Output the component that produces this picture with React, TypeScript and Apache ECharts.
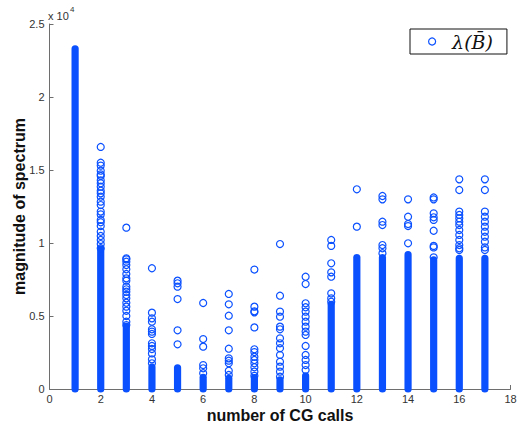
import React, { useEffect, useRef } from "react";
import * as echarts from "echarts";

// number of CG calls (x positions)
const calls = [1, 2, 3, 4, 5, 6, 7, 8, 9, 10, 11, 12, 13, 14, 15, 16, 17];
// solid (overplotted) part of each column: from 0 up to this value
const denseTop = [23300, 9600, 4300, 1500, 1450, 800, 730, 780, 620, 900, 5800, 9000, 9000, 9200, 8840, 8950, 8950];
// individually visible eigenvalues above the solid part, per column
const sparse2 = [16580, 15500, 15300, 14950, 14700, 14590, 14290, 14090, 13860, 13580, 13400, 13170, 12830, 12600, 12150, 11960, 11580, 11420, 11160, 10770, 10480, 10210, 9930, 9640];
const sparse3 = [11050, 8950, 8880, 8720, 8490, 8200, 7880, 7580, 7420, 7010, 6830, 6660, 6440, 6210, 5910, 5640, 5360, 5000, 4610, 4380];
const sparse4 = [8270, 5230, 4840, 4610, 4090, 3930, 3770, 3130, 2950, 2740, 2440, 2030, 1760];
const sparse5 = [7420, 7240, 7010, 6160, 4020, 3060];
const sparse6 = [5890, 3420, 2900, 1640, 1420, 1080];
const sparse7 = [6510, 5800, 5020, 4020, 2760, 2100, 1940, 1760, 1250, 960];
const sparse8 = [8180, 5640, 5320, 5250, 4220, 2720, 2530, 2210, 1990, 1760, 1490, 1190, 900];
const sparse9 = [9930, 6390, 5300, 4950, 4270, 4090, 3470, 3130, 2790, 2330, 1870, 1530, 1190, 840];
const sparse10 = [7690, 7190, 5870, 5600, 5300, 4950, 4610, 4270, 3930, 3700, 2950, 2330, 1990, 1640, 1300];
const sparse11 = [10210, 9800, 8610, 7990, 7690, 6550, 6210, 5980];
const sparse12 = [13680, 11120];
const sparse13 = [13220, 12990, 11460, 11230, 9860, 9640, 9300];
const sparse14 = [12990, 11800, 11300, 11160, 9980];
const sparse15 = [13120, 12990, 12030, 11760, 11580, 10840, 9800, 9700, 9020];
const sparse16 = [14360, 13630, 12150, 11920, 11690, 11460, 11230, 10890, 10550, 10210, 9860, 9640, 9520];
const sparse17 = [14360, 13630, 12150, 11800, 11460, 11120, 10770, 10430, 10090, 9700, 9520];

const sparseByCall: number[][] = [
  [], sparse2, sparse3, sparse4, sparse5, sparse6, sparse7, sparse8, sparse9,
  sparse10, sparse11, sparse12, sparse13, sparse14, sparse15, sparse16, sparse17,
];

const xTicks = [0, 18, 2];
const yTicks = [0, 25000, 5000];
const seriesName = "\u03bb(B\u0304)";

const BLUE = "#0a50ff";
const R = 3.6;

export default function App() {
  const ref = useRef<HTMLDivElement>(null);
  useEffect(() => {
    if (!ref.current) return;
    const chart = echarts.init(ref.current, undefined, { renderer: "svg" });

    const scatterData: number[][] = [];
    calls.forEach((c, i) => {
      sparseByCall[i].forEach((v) => scatterData.push([c, v]));
    });
    const denseData = calls.map((c, i) => [c, 0, denseTop[i]]);

    const axisLine = { show: true, lineStyle: { color: "#6e6e6e", width: 1 } };
    const labelStyle = { color: "#333", fontFamily: "Liberation Sans, Arial, sans-serif", fontSize: 11 };

    chart.setOption({
      animation: false,
      backgroundColor: "#fff",
      grid: { left: 49.5, right: 8.5, top: 24, bottom: 35, containLabel: false, outerBoundsMode: "none" },
      xAxis: {
        type: "value",
        min: xTicks[0],
        max: xTicks[1],
        interval: xTicks[2],
        name: "number of CG calls",
        nameLocation: "middle",
        nameGap: 18,
        nameMoveOverlap: false,
        nameTextStyle: { fontFamily: "Liberation Sans, Arial, sans-serif", fontWeight: "bold", fontSize: 16, color: "#111" },
        axisLine,
        axisTick: { show: true, inside: true, length: 4, lineStyle: { color: "#6e6e6e" } },
        axisLabel: { ...labelStyle, margin: 4 },
        splitLine: { show: false },
      },
      yAxis: {
        type: "value",
        min: yTicks[0],
        max: yTicks[1],
        interval: yTicks[2],
        name: "magnitude of spectrum",
        nameLocation: "middle",
        nameGap: 22,
        nameMoveOverlap: false,
        nameTextStyle: { fontFamily: "Liberation Sans, Arial, sans-serif", fontWeight: "bold", fontSize: 16, color: "#111" },
        axisLine,
        axisTick: { show: true, inside: true, length: 4, lineStyle: { color: "#6e6e6e" } },
        axisLabel: { ...labelStyle, margin: 5, formatter: (v: number) => String(v / 10000) },
        splitLine: { show: false },
      },
      legend: {
        left: 410,
        top: 29,
        padding: [3, 14, 3, 18],
        borderColor: "#111",
        borderWidth: 1,
        backgroundColor: "#fff",
        itemWidth: 30,
        itemHeight: 7,
        data: [
          {
            name: seriesName,
            icon: "circle",
            itemStyle: { color: "transparent", borderColor: BLUE, borderWidth: 1.2 },
          },
        ],
        textStyle: { fontFamily: "DejaVu Serif, Liberation Serif, serif", fontStyle: "italic", fontSize: 19, color: "#111" },
      },
      graphic: [
        { type: "text", x: 48, y: 10, style: { text: "x 10", fontSize: 11, fontFamily: "Liberation Sans, Arial, sans-serif", fill: "#333" } },
        { type: "text", x: 70, y: 5, style: { text: "4", fontSize: 8, fontFamily: "Liberation Sans, Arial, sans-serif", fill: "#333" } },
      ],
      series: [
        {
          type: "custom",
          name: "dense",
          data: denseData,
          renderItem: (params: any, api: any) => {
            const top = api.coord([api.value(0), api.value(2)]);
            const bot = api.coord([api.value(0), api.value(1)]);
            return {
              type: "rect",
              shape: { x: top[0] - R, y: top[1] - R, width: 2 * R, height: bot[1] - top[1] + 2 * R, r: R },
              style: { fill: BLUE },
            };
          },
          silent: true,
          z: 1,
        },
        {
          type: "scatter",
          name: seriesName,
          data: scatterData,
          symbol: "circle",
          symbolSize: 7,
          itemStyle: { color: "transparent", borderColor: BLUE, borderWidth: 1.2, opacity: 1 },
          z: 2,
        },
      ],
    });
    return () => chart.dispose();
  }, []);
  return <div ref={ref} style={{ width: 519, height: 424, position: "absolute", left: 0, top: 0 }} />;
}
